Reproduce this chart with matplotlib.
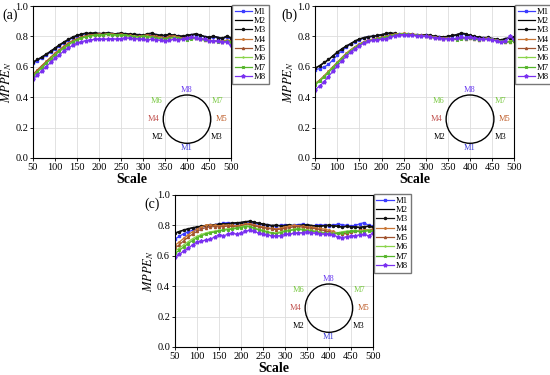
import numpy as np
import matplotlib
matplotlib.use("Agg")
import matplotlib.pyplot as plt
from matplotlib.patches import Ellipse

plt.rcParams["font.family"] = "Liberation Serif"
plt.rcParams["mathtext.fontset"] = "stix"

# --- Data: MPPE_N vs scale, three panels, 8 series each ---
scale = list(range(50, 501, 10))
series_names = ["M1", "M2", "M3", "M4", "M5", "M6", "M7", "M8"]

a_M1 = [0.625, 0.640, 0.658, 0.676, 0.696, 0.716, 0.738, 0.756, 0.774, 0.790, 0.802, 0.811, 0.817, 0.816, 0.819, 0.817, 0.815, 0.820, 0.817, 0.813, 0.818, 0.815, 0.812, 0.809, 0.806, 0.805, 0.811, 0.816, 0.809, 0.805, 0.802, 0.809, 0.805, 0.801, 0.797, 0.802, 0.806, 0.811, 0.804, 0.797, 0.789, 0.796, 0.791, 0.782, 0.796, 0.785]
a_M2 = [0.630, 0.645, 0.662, 0.680, 0.700, 0.720, 0.742, 0.760, 0.778, 0.793, 0.805, 0.814, 0.820, 0.818, 0.822, 0.820, 0.818, 0.823, 0.820, 0.816, 0.821, 0.818, 0.815, 0.812, 0.810, 0.808, 0.815, 0.820, 0.812, 0.808, 0.805, 0.812, 0.808, 0.804, 0.800, 0.805, 0.810, 0.815, 0.808, 0.800, 0.792, 0.800, 0.795, 0.785, 0.800, 0.790]
a_M3 = [0.632, 0.648, 0.665, 0.684, 0.703, 0.724, 0.745, 0.763, 0.780, 0.796, 0.807, 0.816, 0.822, 0.821, 0.824, 0.818, 0.820, 0.825, 0.818, 0.818, 0.823, 0.816, 0.813, 0.815, 0.812, 0.806, 0.818, 0.822, 0.810, 0.806, 0.808, 0.815, 0.806, 0.802, 0.803, 0.808, 0.812, 0.818, 0.810, 0.798, 0.795, 0.803, 0.792, 0.788, 0.802, 0.792]
a_M4 = [0.550, 0.580, 0.608, 0.635, 0.662, 0.690, 0.712, 0.735, 0.755, 0.772, 0.785, 0.796, 0.805, 0.810, 0.812, 0.815, 0.812, 0.818, 0.815, 0.812, 0.815, 0.810, 0.806, 0.802, 0.800, 0.805, 0.810, 0.805, 0.800, 0.795, 0.790, 0.800, 0.805, 0.795, 0.790, 0.792, 0.798, 0.790, 0.785, 0.780, 0.775, 0.770, 0.772, 0.768, 0.775, 0.770]
a_M5 = [0.548, 0.576, 0.604, 0.632, 0.660, 0.686, 0.710, 0.732, 0.752, 0.770, 0.783, 0.794, 0.803, 0.808, 0.811, 0.813, 0.810, 0.816, 0.813, 0.810, 0.813, 0.808, 0.804, 0.800, 0.798, 0.803, 0.807, 0.802, 0.798, 0.793, 0.788, 0.797, 0.802, 0.793, 0.788, 0.790, 0.795, 0.788, 0.783, 0.778, 0.773, 0.768, 0.770, 0.766, 0.772, 0.768]
a_M6 = [0.540, 0.568, 0.596, 0.625, 0.652, 0.680, 0.704, 0.726, 0.746, 0.765, 0.778, 0.790, 0.798, 0.805, 0.808, 0.810, 0.812, 0.815, 0.812, 0.810, 0.812, 0.808, 0.804, 0.800, 0.798, 0.802, 0.800, 0.796, 0.792, 0.788, 0.785, 0.790, 0.795, 0.792, 0.785, 0.780, 0.785, 0.790, 0.782, 0.778, 0.772, 0.770, 0.768, 0.765, 0.770, 0.765]
a_M7 = [0.538, 0.565, 0.593, 0.622, 0.649, 0.677, 0.701, 0.723, 0.744, 0.762, 0.776, 0.788, 0.796, 0.803, 0.806, 0.808, 0.810, 0.813, 0.810, 0.808, 0.810, 0.806, 0.802, 0.798, 0.796, 0.800, 0.798, 0.794, 0.790, 0.786, 0.783, 0.788, 0.792, 0.790, 0.783, 0.778, 0.782, 0.788, 0.780, 0.776, 0.770, 0.768, 0.766, 0.763, 0.768, 0.762]
a_M8 = [0.520, 0.545, 0.572, 0.600, 0.628, 0.655, 0.680, 0.702, 0.722, 0.740, 0.755, 0.765, 0.772, 0.776, 0.780, 0.782, 0.780, 0.783, 0.785, 0.782, 0.786, 0.790, 0.788, 0.786, 0.784, 0.780, 0.778, 0.782, 0.778, 0.774, 0.770, 0.775, 0.780, 0.778, 0.782, 0.790, 0.795, 0.790, 0.785, 0.780, 0.772, 0.768, 0.770, 0.760, 0.765, 0.740]

b_M1 = [0.580, 0.588, 0.598, 0.615, 0.645, 0.675, 0.705, 0.728, 0.748, 0.765, 0.778, 0.787, 0.795, 0.800, 0.803, 0.808, 0.815, 0.818, 0.815, 0.812, 0.810, 0.812, 0.810, 0.806, 0.804, 0.808, 0.802, 0.798, 0.795, 0.792, 0.798, 0.802, 0.808, 0.815, 0.812, 0.800, 0.796, 0.792, 0.788, 0.790, 0.782, 0.778, 0.772, 0.780, 0.788, 0.790]
b_M2 = [0.590, 0.605, 0.625, 0.645, 0.670, 0.695, 0.715, 0.735, 0.750, 0.768, 0.782, 0.790, 0.798, 0.800, 0.805, 0.810, 0.818, 0.822, 0.818, 0.815, 0.812, 0.815, 0.812, 0.810, 0.808, 0.810, 0.805, 0.800, 0.798, 0.795, 0.800, 0.805, 0.810, 0.820, 0.815, 0.805, 0.800, 0.795, 0.790, 0.792, 0.785, 0.780, 0.775, 0.785, 0.790, 0.795]
b_M3 = [0.592, 0.608, 0.628, 0.648, 0.672, 0.697, 0.718, 0.737, 0.753, 0.770, 0.784, 0.792, 0.799, 0.802, 0.806, 0.812, 0.819, 0.823, 0.820, 0.816, 0.814, 0.816, 0.813, 0.811, 0.809, 0.811, 0.806, 0.802, 0.799, 0.797, 0.801, 0.806, 0.812, 0.823, 0.818, 0.806, 0.801, 0.796, 0.792, 0.794, 0.786, 0.782, 0.777, 0.786, 0.791, 0.796]
b_M4 = [0.490, 0.512, 0.540, 0.570, 0.600, 0.630, 0.660, 0.688, 0.712, 0.732, 0.750, 0.765, 0.775, 0.782, 0.788, 0.795, 0.800, 0.808, 0.815, 0.818, 0.820, 0.818, 0.815, 0.812, 0.808, 0.805, 0.800, 0.796, 0.792, 0.788, 0.790, 0.785, 0.782, 0.790, 0.788, 0.792, 0.785, 0.780, 0.785, 0.790, 0.782, 0.775, 0.770, 0.762, 0.768, 0.775]
b_M5 = [0.488, 0.510, 0.538, 0.567, 0.597, 0.627, 0.657, 0.685, 0.709, 0.730, 0.748, 0.763, 0.773, 0.780, 0.786, 0.793, 0.798, 0.806, 0.813, 0.816, 0.818, 0.816, 0.813, 0.810, 0.806, 0.803, 0.798, 0.794, 0.790, 0.786, 0.788, 0.783, 0.780, 0.788, 0.786, 0.790, 0.783, 0.778, 0.783, 0.788, 0.780, 0.773, 0.768, 0.760, 0.766, 0.772]
b_M6 = [0.485, 0.507, 0.535, 0.565, 0.595, 0.625, 0.655, 0.683, 0.707, 0.728, 0.746, 0.761, 0.771, 0.779, 0.785, 0.792, 0.797, 0.805, 0.812, 0.815, 0.817, 0.815, 0.812, 0.809, 0.805, 0.802, 0.797, 0.793, 0.790, 0.786, 0.788, 0.784, 0.781, 0.788, 0.786, 0.790, 0.784, 0.779, 0.783, 0.788, 0.781, 0.774, 0.769, 0.763, 0.768, 0.774]
b_M7 = [0.482, 0.504, 0.532, 0.562, 0.592, 0.622, 0.652, 0.680, 0.704, 0.725, 0.744, 0.759, 0.769, 0.777, 0.783, 0.790, 0.795, 0.803, 0.810, 0.813, 0.815, 0.813, 0.810, 0.807, 0.803, 0.800, 0.795, 0.791, 0.788, 0.784, 0.786, 0.782, 0.779, 0.786, 0.784, 0.788, 0.782, 0.777, 0.781, 0.786, 0.779, 0.772, 0.767, 0.761, 0.766, 0.772]
b_M8 = [0.450, 0.472, 0.500, 0.535, 0.570, 0.605, 0.638, 0.668, 0.695, 0.718, 0.738, 0.755, 0.767, 0.773, 0.778, 0.780, 0.785, 0.795, 0.805, 0.810, 0.812, 0.810, 0.808, 0.805, 0.803, 0.800, 0.795, 0.790, 0.788, 0.785, 0.786, 0.782, 0.788, 0.795, 0.790, 0.795, 0.790, 0.785, 0.780, 0.782, 0.778, 0.770, 0.760, 0.772, 0.800, 0.780]

c_M1 = [0.710, 0.728, 0.745, 0.758, 0.768, 0.778, 0.788, 0.795, 0.800, 0.805, 0.808, 0.815, 0.818, 0.812, 0.810, 0.812, 0.815, 0.818, 0.812, 0.808, 0.805, 0.800, 0.795, 0.798, 0.800, 0.802, 0.798, 0.800, 0.805, 0.808, 0.800, 0.795, 0.800, 0.805, 0.800, 0.798, 0.802, 0.808, 0.805, 0.800, 0.795, 0.800, 0.810, 0.818, 0.800, 0.795]
c_M2 = [0.750, 0.760, 0.770, 0.778, 0.785, 0.790, 0.795, 0.800, 0.802, 0.805, 0.808, 0.810, 0.812, 0.815, 0.818, 0.820, 0.825, 0.828, 0.822, 0.815, 0.810, 0.805, 0.800, 0.802, 0.798, 0.800, 0.805, 0.798, 0.800, 0.802, 0.805, 0.800, 0.798, 0.795, 0.800, 0.802, 0.798, 0.795, 0.790, 0.795, 0.792, 0.790, 0.788, 0.792, 0.795, 0.790]
c_M3 = [0.748, 0.758, 0.768, 0.776, 0.783, 0.788, 0.793, 0.798, 0.800, 0.803, 0.806, 0.808, 0.810, 0.813, 0.816, 0.818, 0.823, 0.826, 0.820, 0.813, 0.808, 0.803, 0.798, 0.800, 0.796, 0.798, 0.803, 0.796, 0.798, 0.800, 0.803, 0.798, 0.796, 0.793, 0.798, 0.800, 0.796, 0.793, 0.788, 0.793, 0.790, 0.788, 0.786, 0.790, 0.793, 0.788]
c_M4 = [0.670, 0.690, 0.715, 0.738, 0.758, 0.775, 0.790, 0.800, 0.805, 0.800, 0.798, 0.800, 0.802, 0.800, 0.798, 0.802, 0.810, 0.812, 0.805, 0.795, 0.790, 0.785, 0.780, 0.778, 0.782, 0.790, 0.795, 0.800, 0.798, 0.795, 0.790, 0.788, 0.785, 0.780, 0.775, 0.768, 0.760, 0.750, 0.742, 0.745, 0.755, 0.762, 0.768, 0.770, 0.772, 0.775]
c_M5 = [0.650, 0.672, 0.698, 0.722, 0.742, 0.760, 0.775, 0.785, 0.790, 0.792, 0.790, 0.792, 0.795, 0.793, 0.790, 0.795, 0.802, 0.805, 0.798, 0.790, 0.785, 0.780, 0.776, 0.772, 0.775, 0.780, 0.785, 0.790, 0.792, 0.788, 0.785, 0.780, 0.778, 0.772, 0.765, 0.758, 0.752, 0.748, 0.745, 0.750, 0.755, 0.760, 0.765, 0.765, 0.768, 0.770]
c_M6 = [0.630, 0.650, 0.672, 0.692, 0.712, 0.728, 0.740, 0.750, 0.758, 0.762, 0.768, 0.772, 0.778, 0.780, 0.785, 0.790, 0.798, 0.795, 0.785, 0.775, 0.768, 0.760, 0.752, 0.750, 0.758, 0.765, 0.770, 0.775, 0.780, 0.775, 0.770, 0.768, 0.762, 0.758, 0.752, 0.750, 0.748, 0.752, 0.758, 0.762, 0.765, 0.768, 0.762, 0.765, 0.770, 0.765]
c_M7 = [0.615, 0.636, 0.658, 0.680, 0.700, 0.718, 0.732, 0.742, 0.750, 0.756, 0.762, 0.767, 0.772, 0.775, 0.780, 0.785, 0.792, 0.790, 0.780, 0.770, 0.762, 0.755, 0.748, 0.746, 0.752, 0.760, 0.765, 0.770, 0.774, 0.770, 0.765, 0.762, 0.757, 0.752, 0.748, 0.745, 0.743, 0.747, 0.752, 0.757, 0.760, 0.762, 0.758, 0.760, 0.764, 0.760]
c_M8 = [0.590, 0.610, 0.630, 0.650, 0.670, 0.690, 0.698, 0.702, 0.710, 0.722, 0.738, 0.732, 0.740, 0.748, 0.742, 0.750, 0.760, 0.768, 0.760, 0.750, 0.742, 0.738, 0.732, 0.730, 0.732, 0.740, 0.742, 0.748, 0.750, 0.752, 0.758, 0.752, 0.748, 0.745, 0.742, 0.740, 0.735, 0.725, 0.720, 0.725, 0.730, 0.732, 0.738, 0.740, 0.732, 0.748]

panels = {
    "(a)": [a_M1, a_M2, a_M3, a_M4, a_M5, a_M6, a_M7, a_M8],
    "(b)": [b_M1, b_M2, b_M3, b_M4, b_M5, b_M6, b_M7, b_M8],
    "(c)": [c_M1, c_M2, c_M3, c_M4, c_M5, c_M6, c_M7, c_M8],
}

# Line styles (Origin-like)
colors = ["#3c3cff", "#000000", "#111111", "#c87533", "#a0522d", "#8ad44a", "#55b52a", "#7a30f0"]
markers = ["s", None, "o", "o", "^", "+", "x", "*"]
msizes = [1.5, 0, 1.5, 1.1, 1.5, 2.0, 1.8, 2.8]

# Circle annotation labels: (label, x, y, color)
circle_labels = [
    ("M8", 400, 0.445, "#6a3cf0"),
    ("M1", 400, 0.065, "#3c3cd8"),
    ("M6", 330, 0.375, "#7ac943"),
    ("M7", 470, 0.375, "#7ac943"),
    ("M4", 324, 0.255, "#c0504d"),
    ("M5", 478, 0.255, "#c0602d"),
    ("M2", 332, 0.140, "#000000"),
    ("M3", 468, 0.140, "#000000"),
]

fig = plt.figure(figsize=(5.5, 3.75), dpi=100)
positions = {
    "(a)": [0.060, 0.579, 0.360, 0.405],
    "(b)": [0.573, 0.579, 0.362, 0.405],
    "(c)": [0.318, 0.075, 0.360, 0.405],
}
label_pos = {"(a)": (0.004, 0.978), "(b)": (0.512, 0.978), "(c)": (0.262, 0.473)}

for name, series in panels.items():
    ax = fig.add_axes(positions[name])
    for k, vals in enumerate(series):
        ax.plot(scale, vals, color=colors[k], marker=markers[k], markersize=msizes[k],
                linewidth=0.9, label=series_names[k])
    ax.set_xlim(50, 500)
    ax.set_ylim(0, 1.0)
    ax.set_xticks(range(50, 501, 50))
    ax.set_yticks(np.arange(0, 1.01, 0.2))
    ax.set_yticklabels([f"{v:.1f}" for v in np.arange(0, 1.01, 0.2)])
    ax.grid(True, color="#dddddd", linewidth=0.6)
    ax.set_axisbelow(True)
    ax.tick_params(labelsize=7.5, length=2, width=0.6, pad=1.5)
    for sp in ax.spines.values():
        sp.set_linewidth(0.8)
    ax.set_xlabel("Scale", fontsize=10, fontweight="bold", labelpad=1)
    ax.set_ylabel(r"$MPPE_N$", fontsize=9, labelpad=1)

    # circle sketch with sensor labels
    ax.add_patch(Ellipse((400, 0.255), 108, 0.318, fill=False, edgecolor="black", linewidth=1.0))
    for lab, x, y, c in circle_labels:
        ax.text(x, y, lab, color=c, fontsize=6, ha="center", va="center")

    ax.legend(loc="upper left", bbox_to_anchor=(1.005, 1.005), fontsize=6.2,
              frameon=True, fancybox=False, edgecolor="#555555", borderpad=0.3,
              labelspacing=0.15, handlelength=2.0, handletextpad=0.25, borderaxespad=0)

    fig.text(label_pos[name][0], label_pos[name][1], name, fontsize=10, va="top")

fig.savefig("out.png", dpi=100)
